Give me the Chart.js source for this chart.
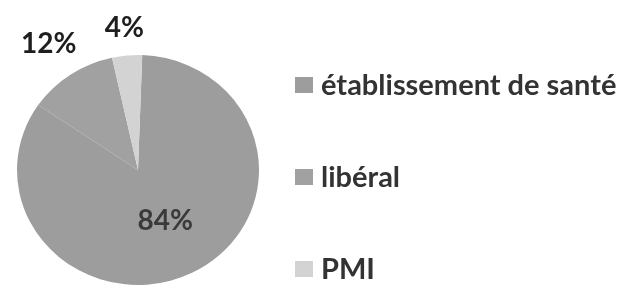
<!DOCTYPE html>
<html>
<head>
<meta charset="utf-8">
<script src="https://cdn.jsdelivr.net/npm/chart.js@4/dist/chart.umd.min.js"></script>
<style>
  html, body { margin: 0; padding: 0; background: #fff; overflow: hidden; }
  #wrap { position: relative; width: 627px; height: 287px; overflow: hidden; }
  #box { position: absolute; left: 0; top: 0; width: 627px; height: 340px; }
</style>
</head>
<body>
<div id="wrap"><div id="box"><canvas id="c"></canvas></div></div>
<script>
const categories = ['établissement de santé', 'libéral', 'PMI'];
const values = [84, 12, 4];
const valueLabels = ['84%', '12%', '4%'];
const sliceColors = ['#9d9d9d', '#a1a1a1', '#d3d3d3'];
const labelDistance = [0.5, 1.32, 1.24];
const labelColors = ['#3a3a3a', '#1e1e1e', '#1e1e1e'];

const FONT_FAMILY = 'Lato, "Open Sans", sans-serif';
const Y_SQUASH = 0.95; // the reference pie is slightly oval

const ovalPie = {
  id: 'ovalPie',
  beforeDatasetsDraw(chart) {
    const a = chart.chartArea;
    const cx = (a.left + a.right) / 2, cy = (a.top + a.bottom) / 2;
    const ctx = chart.ctx;
    ctx.save();
    ctx.translate(cx, cy);
    ctx.scale(1, Y_SQUASH);
    ctx.translate(-cx, -cy);
  },
  afterDatasetsDraw(chart) {
    chart.ctx.restore();
  }
};

const pieLabels = {
  id: 'pieLabels',
  afterDatasetsDraw(chart) {
    const ctx = chart.ctx;
    const meta = chart.getDatasetMeta(0);
    ctx.save();
    ctx.textAlign = 'center';
    ctx.textBaseline = 'middle';
    meta.data.forEach((arc, i) => {
      const p = arc.getProps(['x', 'y', 'startAngle', 'endAngle', 'outerRadius'], true);
      const mid = (p.startAngle + p.endAngle) / 2;
      const d = p.outerRadius * labelDistance[i];
      ctx.font = 'bold 28px ' + FONT_FAMILY;
      ctx.fillStyle = labelColors[i];
      ctx.fillText(valueLabels[i], p.x + Math.cos(mid) * d, p.y + Math.sin(mid) * d * Y_SQUASH);
    });
    ctx.restore();
  }
};

// legend drawn on the canvas from the chart's own labels and colours
const sideLegend = {
  id: 'sideLegend',
  afterDraw(chart) {
    const ctx = chart.ctx;
    const ds = chart.data.datasets[0];
    ctx.save();
    ctx.textAlign = 'left';
    ctx.textBaseline = 'middle';
    ctx.font = 'bold 29px ' + FONT_FAMILY;
    chart.data.labels.forEach((lab, i) => {
      const cy = 85 + i * 92;
      ctx.fillStyle = ds.backgroundColor[i];
      ctx.fillRect(295, cy - 8, 18, 16);
      ctx.fillStyle = '#333333';
      ctx.fillText(lab, 321, cy + 1);
    });
    ctx.restore();
  }
};

new Chart(document.getElementById('c'), {
  type: 'pie',
  data: {
    labels: categories,
    datasets: [{
      data: values,
      backgroundColor: sliceColors,
      borderWidth: 0,
      clip: false
    }]
  },
  options: {
    responsive: true,
    maintainAspectRatio: false,
    animation: false,
    rotation: 2,
    layout: { padding: { left: 17, right: 368, top: 49, bottom: 49 } },
    plugins: {
      tooltip: { enabled: false },
      legend: { display: false }
    }
  },
  plugins: [ovalPie, pieLabels, sideLegend]
});
</script>
</body>
</html>
